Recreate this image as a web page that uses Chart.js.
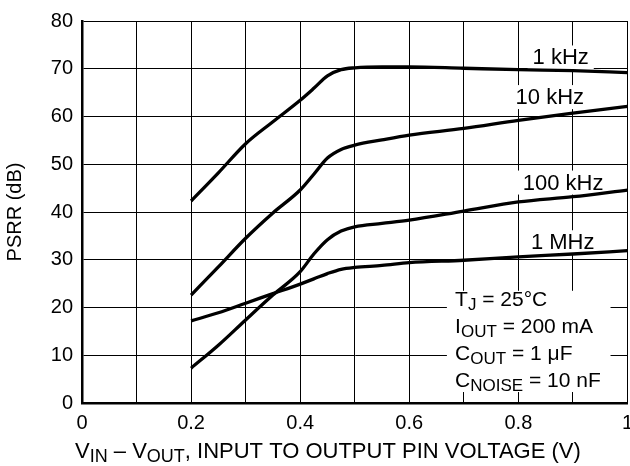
<!DOCTYPE html>
<html>
<head>
<meta charset="utf-8">
<script src="https://cdn.jsdelivr.net/npm/chart.js@4.4.1/dist/chart.umd.min.js"></script>
<style>
  html, body { margin: 0; padding: 0; overflow: hidden; background: #fff; }
  canvas { display: block; }
</style>
</head>
<body>
<canvas id="psrr" width="641" height="466"></canvas>
<script>
// V_IN - V_OUT sample points (V)
const voltages = [0.2, 0.25, 0.3, 0.35, 0.4, 0.425, 0.45, 0.475, 0.5, 0.55, 0.6, 0.7, 0.8, 0.9, 1.0];

// PSRR (dB)
const psrr1k   = [42.3, 48.2, 54.3, 58.9, 63.4, 65.9, 68.5, 69.8, 70.2, 70.4, 70.4, 70.1, 69.8, 69.6, 69.2];
const psrr10k  = [22.6, 28.5, 34.5, 39.8, 44.6, 47.9, 51.3, 53.1, 54.0, 55.1, 56.1, 57.5, 59.2, 60.7, 62.1];
const psrr100k = [7.3, 12.1, 17.4, 22.6, 27.5, 31.2, 34.2, 36.0, 36.9, 37.6, 38.3, 40.2, 42.1, 43.2, 44.6];
const psrr1M   = [17.2, 18.9, 20.9, 22.9, 24.9, 26.0, 27.1, 28.0, 28.4, 28.8, 29.4, 29.9, 30.6, 31.2, 31.9];

const seriesNames = ["1 kHz", "10 kHz", "100 kHz", "1 MHz"];
const xTickLabels = { 0: "0", 2: "0.2", 4: "0.4", 6: "0.6", 8: "0.8", 10: "1" };

const FONT = '"Liberation Sans", Arial, Helvetica, sans-serif';

// where each curve name sits (in axis units: left edge, baseline)
const curveLabels = [
  { text: "1 kHz",   x: 0.826, y: 70.9 },
  { text: "10 kHz",  x: 0.795, y: 62.6 },
  { text: "100 kHz", x: 0.808, y: 44.7 },
  { text: "1 MHz",   x: 0.823, y: 32.2 }
];

const conditions = [
  [["T", 0], ["J", 1], [" = 25°C", 0]],
  [["I", 0], ["OUT", 1], [" = 200 mA", 0]],
  [["C", 0], ["OUT", 1], [" = 1 μF", 0]],
  [["C", 0], ["NOISE", 1], [" = 10 nF", 0]]
];

function pts(ys) {
  return voltages.map((v, i) => ({ x: v, y: ys[i] }));
}

function drawRich(ctx, parts, x, y, size) {
  parts.forEach(([t, sub]) => {
    ctx.font = (sub ? Math.round(size * 0.8) : size) + "px " + FONT;
    ctx.fillText(t, x, sub ? y + Math.round(size * 0.2) : y);
    x += ctx.measureText(t).width;
  });
  return x;
}

const overlay = {
  id: "overlay",
  beforeDatasetsDraw(chart) {
    const ctx = chart.ctx;
    const xs = chart.scales.x, ys = chart.scales.y;
    ctx.save();
    ctx.textBaseline = "alphabetic";
    ctx.textAlign = "left";

    // curve names on white patches
    ctx.font = "22px " + FONT;
    curveLabels.forEach(l => {
      const px = xs.getPixelForValue(l.x);
      const py = ys.getPixelForValue(l.y);
      const w = ctx.measureText(l.text).width;
      ctx.fillStyle = "#fff";
      ctx.fillRect(px - 5, py - 19, w + 10, 24);
      ctx.fillStyle = "#000";
      ctx.fillText(l.text, px, py);
    });

    // test conditions box
    const bx0 = xs.getPixelForValue(0.669), bx1 = xs.getPixelForValue(0.969);
    const by0 = ys.getPixelForValue(23.5), by1 = ys.getPixelForValue(2.3);
    ctx.fillStyle = "#fff";
    ctx.fillRect(bx0, by0, bx1 - bx0, by1 - by0);
    ctx.fillStyle = "#000";
    const tx = xs.getPixelForValue(0.684);
    const baselines = [306, 333, 360, 386.5];
    conditions.forEach((line, i) => drawRich(ctx, line, tx, baselines[i], 21));
    ctx.restore();
  },
  afterDraw(chart) {
    const ctx = chart.ctx;
    ctx.save();
    ctx.fillStyle = "#000";
    ctx.textBaseline = "alphabetic";
    ctx.textAlign = "left";
    drawRich(ctx, [["V", 0], ["IN", 1], [" – V", 0], ["OUT", 1], [", INPUT TO OUTPUT PIN VOLTAGE (V)", 0]], 75, 458, 22);
    ctx.restore();
  }
};

const ds = [psrr1k, psrr10k, psrr100k, psrr1M].map((ys, i) => ({
  label: seriesNames[i],
  data: pts(ys),
  borderColor: "#000",
  borderWidth: 3.3,
  pointRadius: 0,
  fill: false,
  cubicInterpolationMode: "monotone"
}));

new Chart(document.getElementById("psrr"), {
  type: "line",
  data: { datasets: ds },
  plugins: [overlay],
  options: {
    responsive: false,
    animation: false,
    devicePixelRatio: 1,
    layout: { padding: { top: 18, right: 6, left: 0, bottom: 0 } },
    plugins: { legend: { display: false }, tooltip: { enabled: false } },
    scales: {
      x: {
        type: "linear",
        min: 0, max: 1,
        ticks: {
          stepSize: 0.1,
          autoSkip: false,
          maxRotation: 0,
          color: "#000",
          padding: 8,
          font: { family: FONT, size: 20 },
          callback: v => {
            const k = Math.round(v * 10);
            return k in xTickLabels ? xTickLabels[k] : "";
          }
        },
        grid: { color: "#000", lineWidth: 1, drawTicks: false },
        border: { display: true, color: "#000", width: 2.5 },
        afterFit: s => { s.height = 63; }
      },
      y: {
        min: 0, max: 80,
        ticks: {
          stepSize: 10,
          color: "#000",
          padding: 9,
          font: { family: FONT, size: 20 }
        },
        grid: { color: "#000", lineWidth: 1, drawTicks: false },
        border: { display: true, color: "#000", width: 2.5 },
        title: {
          display: true,
          text: "PSRR (dB)",
          color: "#000",
          font: { family: FONT, size: 20 },
          padding: { top: 3, bottom: 0 }
        },
        afterFit: s => { s.width = 82; }
      }
    }
  }
});
</script>
</body>
</html>
